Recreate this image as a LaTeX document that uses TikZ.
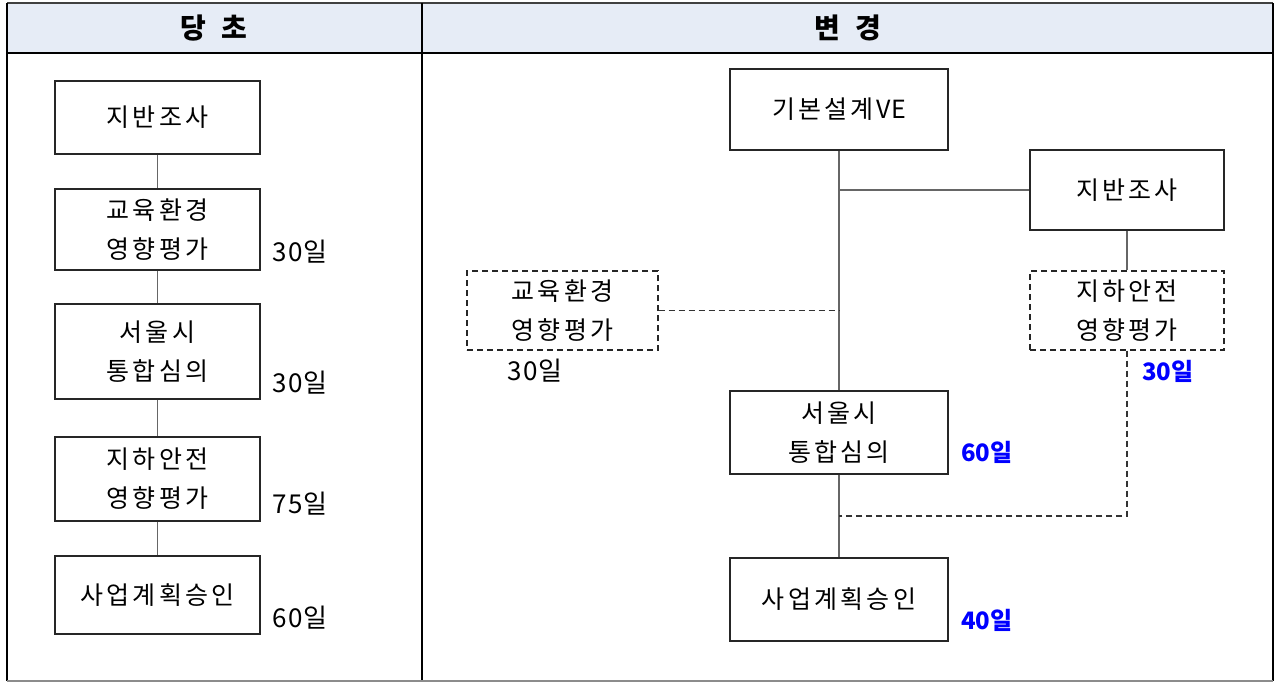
\documentclass[tikz,border=0pt]{standalone}
\usepackage{fontspec}
\setmainfont{Noto Sans CJK KR}
\newfontfamily\boxfont[LetterSpace=13]{Noto Sans CJK KR}
\newfontfamily\plainfont{Noto Sans CJK KR}
\newfontfamily\dayfont[LetterSpace=4]{Noto Sans CJK KR}
\definecolor{hdrfill}{HTML}{E6ECF6}
\definecolor{linegray}{HTML}{666666}
\definecolor{bluelbl}{HTML}{0000FF}
\tikzset{
  procbox/.style={draw=black!85, line width=1.3pt, fill=white, minimum width=#1, inner sep=0pt, align=center, font=\boxfont\fontsize{25}{39}\selectfont},
  procbox/.default=205pt,
  dashbox/.style={procbox=#1, dashed, dash pattern=on 6pt off 4pt, line width=1.1pt},
  dashbox/.default=192pt,
  conn/.style={draw=linegray, line width=1.4pt},
  dconn/.style={draw=black!80, line width=1.1pt, dash pattern=on 6pt off 4pt},
  daylbl/.style={font=\dayfont\fontsize{26}{30}\selectfont, inner sep=0pt},
  bluelabel/.style={font=\fontsize{24}{28}\selectfont\bfseries, text=bluelbl, inner sep=0pt},
  hdrtext/.style={font=\fontsize{28}{30}\selectfont\bfseries, inner sep=0pt}
}
\begin{document}
\begin{tikzpicture}[x=1pt,y=-1pt]
\useasboundingbox (0,0) rectangle (1276,683);
% table frame
\fill[hdrfill] (7,3) rectangle (1273,53);
\draw[black!75, line width=2pt] (7,3) -- (1273,3);
\draw[black, line width=1.4pt] (7,53) -- (1273,53);
\draw[black, line width=1.4pt] (7,3) -- (7,681);
\draw[black, line width=1.4pt] (1273,3) -- (1273,681);
\draw[black, line width=1.4pt] (422,3) -- (422,681);
\draw[black!45, line width=1.6pt] (7,681) -- (1273,681);
\node[hdrtext] (h1) at (214,28) {당\hspace{16pt}초};
\node[hdrtext] (h2) at (848,28) {변\hspace{16pt}경};

% left column
\node[procbox, minimum height=73pt] (l1) at (157.5,117.5) {지반조사};
\node[procbox, minimum height=81pt] (l2) at (157.5,229.5) {교육환경\\영향평가};
\node[procbox, minimum height=95pt] (l3) at (157.5,351.5) {서울시\\통합심의};
\node[procbox, minimum height=84pt] (l4) at (157.5,479) {지하안전\\영향평가};
\node[procbox, minimum height=78pt] (l5) at (157.5,595) {사업계획승인};
\draw[conn] (l1) -- (l2);
\draw[conn] (l2) -- (l3);
\draw[conn] (l3) -- (l4);
\draw[conn] (l4) -- (l5);
\node[daylbl] (d1) at (300,252) {30일};
\node[daylbl] (d2) at (300,383) {30일};
\node[daylbl] (d3) at (300,504) {75일};
\node[daylbl] (d4) at (300,618) {60일};

% right column
\node[procbox=218pt, minimum height=81pt] (ve) at (839,109.5) {기본설계\hspace{3pt}{\plainfont VE}};
\node[procbox=194pt, minimum height=80pt] (jb) at (1127,190) {지반조사};
\node[dashbox=191pt, minimum height=79pt] (ed) at (562.5,310.5) {교육환경\\영향평가};
\node[dashbox=194pt, minimum height=79pt] (ug) at (1127,310.5) {지하안전\\영향평가};
\node[procbox=218pt, minimum height=83pt] (sc) at (839,432.5) {서울시\\통합심의};
\node[procbox=218pt, minimum height=83pt] (ap) at (839,599.5) {사업계획승인};

\coordinate (j1) at (ve.south |- jb.west);
\coordinate (j2) at (ve.south |- ed.east);
\coordinate (j3) at (839,516);
\coordinate (j4) at (ug.south |- j3);

\draw[conn] (ve.south) -- (sc.north);
\draw[conn] (j1) -- (jb.west);
\draw[conn] (jb.south) -- (ug.north);
\draw[conn] (sc.south) -- (ap.north);
\draw[dconn] (ed.east) -- (j2);
\draw[dconn] (ug.south) -- (j4) -- (j3);

\node[daylbl] (d5) at (535,371) {30일};
\node[bluelabel] (d6) at (1168,371) {30일};
\node[bluelabel] (d7) at (987,452) {60일};
\node[bluelabel] (d8) at (987,620) {40일};
\end{tikzpicture}
\end{document}
